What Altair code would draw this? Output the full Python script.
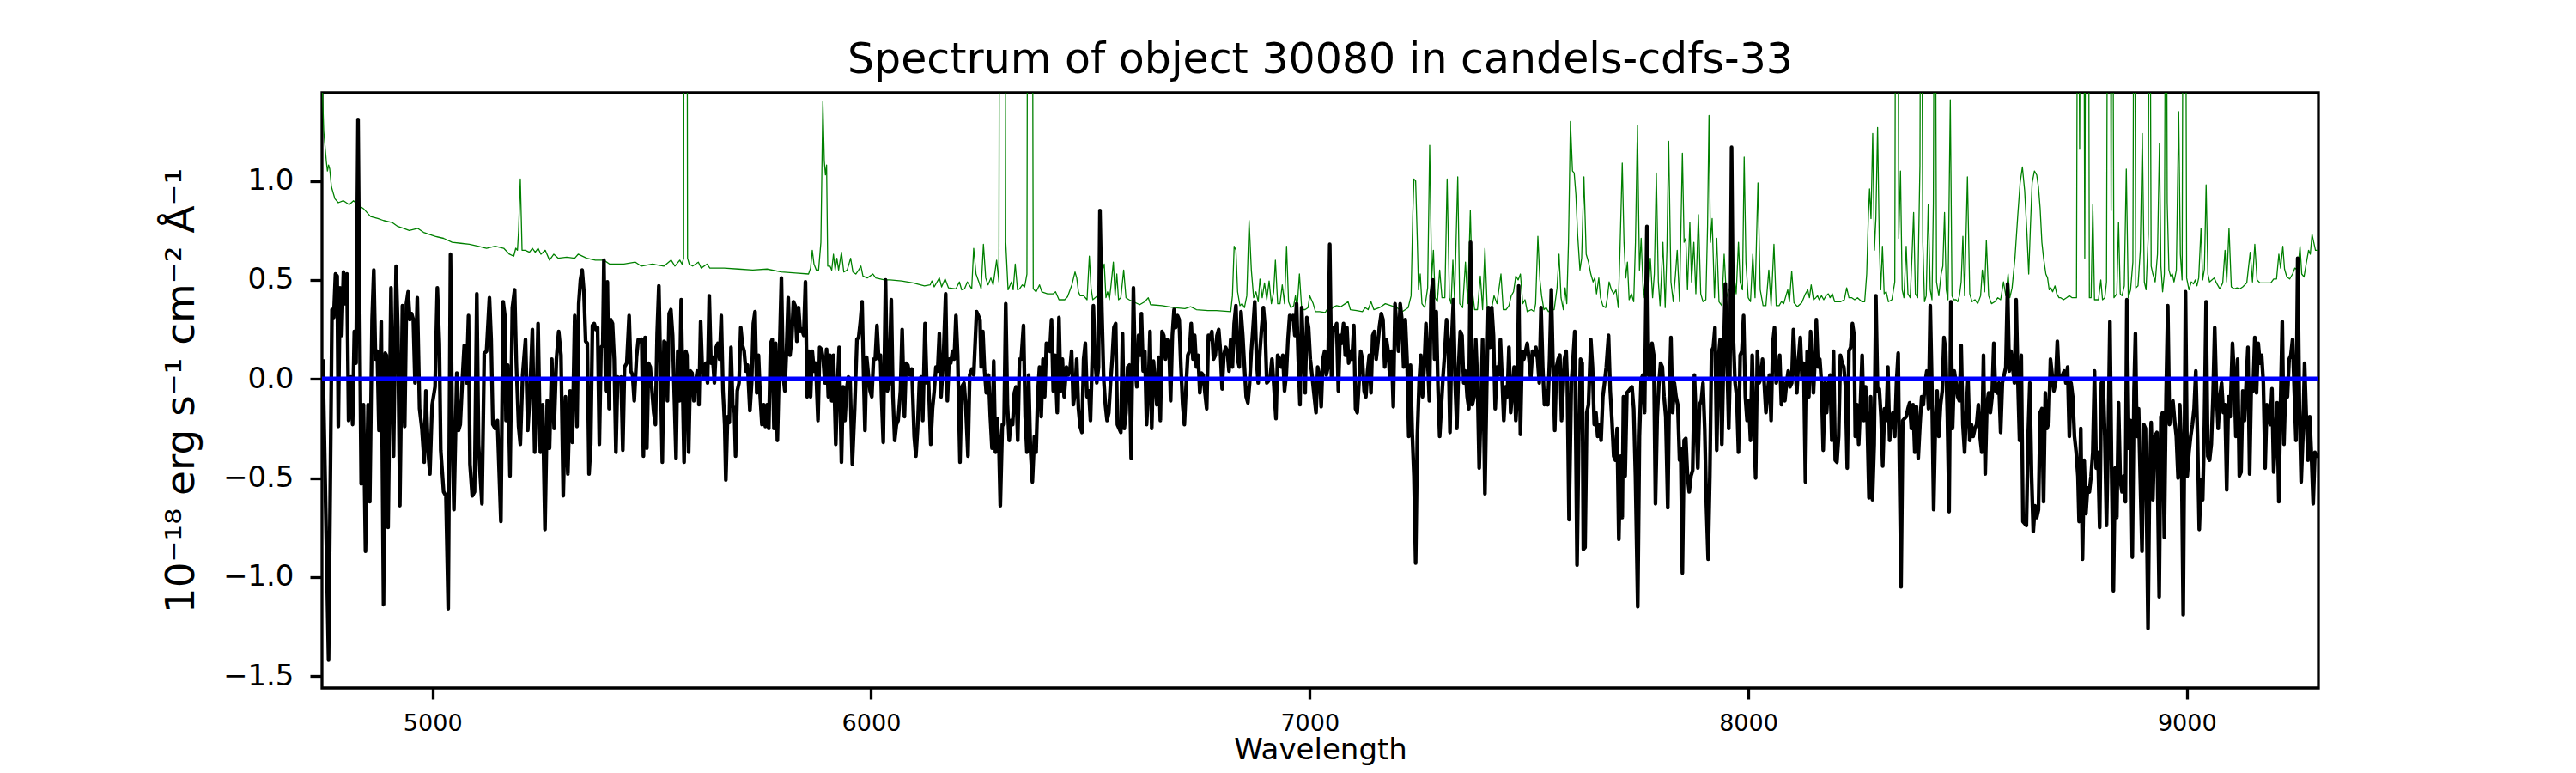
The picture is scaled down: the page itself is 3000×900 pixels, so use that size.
import altair as alt
import pandas as pd

# ---------------- data: object spectrum (black), segment by segment ----------------
wa = [4750.0, 4763.0, 4770.8, 4774.7, 4778.7, 4782.6, 4785.2, 4789.1, 4793.0, 4796.9, 4800.9, 4804.8, 4808.7, 4813.9, 4817.8, 4821.7, 4825.7, 4830.2, 4834.8, 4837.4,
      4842.6, 4847.2, 4853.1, 4857.0, 4862.2, 4866.1, 4870.0, 4874.0, 4877.9, 4883.1, 4888.3, 4892.2, 4894.8, 4898.7, 4905.3, 4911.1, 4917.0, 4920.9, 4925.5, 4931.4,
      4936.6, 4940.5, 4944.4, 4948.3, 4952.2, 4956.2, 4960.1, 4965.3, 4970.5, 4975.8, 4981.0, 4984.9, 4990.1, 4994.0, 4999.2, 5005.8, 5011.0, 5015.6, 5018.8, 5025.3,
      5030.6, 5035.8, 5041.0, 5044.9, 5048.8, 5055.4, 5059.3, 5063.2, 5068.4, 5072.3, 5077.6, 5082.1, 5085.4, 5090.6, 5095.8, 5101.0, 5105.0, 5108.9, 5112.8, 5118.0,
      5123.2, 5129.8, 5133.7, 5137.6, 5142.8, 5148.0, 5155.9, 5161.1, 5165.0, 5167.6, 5171.5, 5176.7, 5182.0, 5187.2, 5191.1, 5196.3, 5200.2, 5205.5, 5212.0, 5217.2,
      5222.4, 5227.7, 5232.9, 5236.8, 5240.7, 5245.9, 5251.2, 5256.4, 5261.6, 5266.8, 5272.0, 5277.3, 5282.5, 5287.7, 5292.9, 5298.1, 5303.3, 5308.6, 5313.8, 5319.0,
      5324.2]
fa = [0.10, -1.42, 0.35, 0.31, 0.53, 0.52, -0.24, 0.46, 0.22, 0.54, 0.38, 0.53, -0.21, 0.01, -0.23, 0.24, 0.08, 1.31, 0.10, -0.53,
      -0.13, -0.87, -0.13, -0.62, 0.30, 0.55, 0.10, 0.14, -0.26, 0.29, -1.14, 0.13, 0.12, -0.75, 0.46, -0.39, 0.57, 0.26, -0.64, 0.37,
      -0.24, 0.38, 0.44, 0.30, 0.33, 0.30, -0.02, 0.41, -0.15, -0.25, -0.42, -0.06, -0.37, -0.48, -0.13, -0.04, 0.46, 0.18, -0.36, -0.57,
      -0.59, -1.16, 0.63, -0.25, -0.66, 0.03, -0.26, -0.23, 0.01, 0.17, -0.02, 0.32, -0.43, -0.59, -0.57, 0.43, -0.33, -0.49, -0.63, 0.13,
      0.14, 0.41, 0.20, -0.23, -0.25, -0.21, -0.72, 0.39, 0.32, -0.21, 0.07, -0.49, 0.36, 0.45, 0.08, -0.24, -0.33, 0.02, 0.20, -0.26,
      -0.06, 0.25, -0.37, -0.13, 0.28, -0.37, -0.13, -0.76, -0.11, -0.35, 0.10, -0.25, 0.10, 0.24, 0.12, -0.59, -0.09, -0.48, -0.06, -0.32,
      0.32]

wb = [5329.5, 5333.4, 5337.3, 5341.2, 5345.2, 5349.1, 5353.0, 5356.9, 5360.8, 5364.7, 5368.6, 5372.6, 5376.5, 5380.4, 5384.3, 5388.2, 5390.8, 5394.8, 5398.7, 5402.6,
      5406.5, 5410.4, 5414.3, 5418.2, 5422.2, 5426.1, 5430.0, 5433.9, 5437.8, 5443.0, 5448.3, 5452.2, 5456.1, 5460.0, 5465.2, 5469.2, 5473.1, 5477.0, 5480.9, 5484.8,
      5488.7, 5492.6, 5496.6, 5500.5, 5504.4, 5508.3, 5512.2, 5516.1, 5520.1, 5524.0, 5527.9, 5531.8, 5535.7, 5539.6, 5543.5, 5547.5, 5551.4, 5555.3, 5559.2, 5563.1,
      5567.0, 5571.0, 5573.6, 5577.5, 5580.1, 5584.0, 5587.9, 5591.8, 5595.8, 5599.7, 5603.6, 5607.5, 5611.4, 5615.3, 5619.2, 5623.2, 5627.1, 5631.0, 5634.9, 5638.8,
      5642.7, 5646.7, 5650.6, 5654.5, 5658.4, 5662.3, 5666.2, 5668.8, 5672.8, 5676.7, 5680.6, 5684.5, 5688.4, 5691.0, 5694.9, 5698.9, 5702.8, 5706.7, 5710.6, 5714.5,
      5718.4, 5723.7, 5727.6, 5731.5, 5735.4, 5739.3, 5743.2, 5747.2, 5751.1, 5755.0, 5758.9, 5762.8, 5766.7, 5770.7, 5774.6, 5778.5, 5782.4, 5786.3, 5790.2, 5795.5,
      5799.4, 5803.3, 5807.2, 5811.1, 5815.0, 5819.0, 5822.9, 5826.8, 5830.7, 5834.6, 5838.5, 5842.4, 5846.4, 5850.3, 5854.2, 5858.1, 5862.0, 5865.9, 5869.8, 5873.8]
fb = [-0.24, 0.38, 0.50, 0.55, 0.44, 0.19, 0.18, -0.48, -0.33, 0.27, 0.28, 0.25, 0.26, -0.33, 0.16, 0.17, 0.60, -0.06, 0.49, -0.15,
      0.30, 0.28, 0.10, -0.37, 0.01, 0.00, 0.01, -0.36, 0.06, 0.08, 0.32, 0.04, 0.02, -0.11, 0.11, 0.20, 0.19, 0.20, -0.39, 0.21,
      -0.35, 0.08, 0.06, -0.06, -0.17, -0.23, 0.23, 0.47, 0.02, -0.42, 0.19, 0.18, -0.11, 0.33, 0.35, 0.22, -0.09, -0.40, 0.14, -0.11,
      0.40, -0.12, -0.42, 0.14, 0.12, -0.37, 0.04, 0.03, -0.11, -0.02, 0.04, -0.13, 0.29, 0.04, 0.01, 0.08, -0.02, 0.42, 0.08, 0.11,
      -0.02, 0.16, 0.18, 0.10, 0.32, -0.06, -0.23, -0.51, -0.19, -0.22, 0.16, -0.13, -0.17, -0.39, -0.06, -0.02, 0.26, 0.17, 0.14, 0.04,
      0.07, -0.16, -0.02, 0.28, 0.34, -0.07, 0.12, -0.09, -0.23, -0.13, -0.24, -0.13, -0.25, 0.18, 0.20, -0.25, 0.18, -0.31, 0.05, 0.51,
      0.02, -0.06, 0.15, 0.41, 0.12, 0.20, 0.39, 0.37, 0.19, 0.36, 0.24, 0.25, 0.22, 0.49, -0.09, 0.14, -0.09, 0.14, 0.04, 0.08]

wc = [5878.9, 5882.8, 5886.8, 5890.7, 5894.6, 5898.5, 5902.4, 5906.3, 5910.2, 5914.2, 5919.4, 5923.3, 5927.2, 5932.4, 5936.3, 5940.3, 5944.2, 5948.1, 5952.0, 5957.2,
      5962.5, 5967.7, 5971.6, 5975.5, 5979.4, 5983.3, 5986.0, 5989.9, 5993.8, 5997.7, 6001.6, 6005.5, 6009.4, 6013.4, 6017.3, 6021.2, 6023.8, 6027.7, 6032.9, 6036.9,
      6040.8, 6046.0, 6049.9, 6053.8, 6057.7, 6061.6, 6066.9, 6070.8, 6076.0, 6079.9, 6083.8, 6087.8, 6093.0, 6098.2, 6102.1, 6106.0, 6110.0, 6113.9, 6117.8, 6123.0,
      6126.9, 6130.8, 6136.0, 6140.0, 6143.9, 6147.8, 6151.7, 6155.6, 6159.5, 6164.8, 6170.0, 6173.9, 6177.8, 6181.7, 6185.6, 6189.6, 6193.5, 6197.4, 6202.6, 6206.5,
      6211.8, 6215.7, 6220.9, 6224.8, 6230.0, 6234.0, 6240.5, 6244.4, 6248.3, 6250.9, 6254.8, 6258.7, 6262.6, 6267.9, 6271.8, 6275.7, 6279.6, 6283.5, 6287.4, 6291.4,
      6294.6, 6299.2, 6303.1, 6307.0, 6310.9, 6314.9, 6318.8, 6322.7, 6326.6, 6330.5, 6334.4, 6338.4, 6342.3, 6347.5, 6351.4, 6355.3, 6359.2, 6363.2, 6367.7, 6372.3,
      6376.2, 6380.1, 6384.0, 6387.9, 6391.9, 6395.8, 6399.7, 6403.6, 6407.5, 6411.4, 6415.3, 6419.3, 6424.5, 6428.4, 6432.3, 6436.2, 6440.2]
fc = [-0.21, 0.16, 0.15, 0.10, -0.02, 0.15, -0.09, 0.12, -0.11, 0.12, -0.33, -0.04, 0.16, -0.42, -0.04, -0.21, -0.05, 0.01, 0.00, -0.43,
      -0.15, 0.20, 0.21, 0.29, 0.39, -0.02, -0.26, 0.11, 0.02, -0.06, -0.09, 0.10, 0.10, 0.27, 0.10, 0.12, -0.09, -0.32, 0.50, -0.06,
      -0.03, 0.40, -0.09, -0.31, -0.23, -0.21, -0.06, 0.25, -0.19, 0.08, 0.07, 0.02, 0.05, -0.29, -0.39, -0.25, -0.02, 0.01, -0.21, 0.28,
      -0.02, 0.00, -0.33, -0.15, -0.06, 0.06, 0.04, 0.23, -0.09, 0.10, 0.43, -0.11, 0.10, 0.08, 0.14, 0.10, 0.32, 0.12, -0.42, -0.04,
      -0.02, -0.13, -0.39, 0.02, 0.05, 0.02, 0.34, 0.32, 0.30, 0.06, 0.24, 0.04, -0.07, 0.02, -0.19, -0.35, 0.09, -0.37, -0.20, -0.33,
      -0.64, -0.23, -0.23, 0.38, -0.13, -0.31, -0.21, -0.23, -0.07, -0.04, -0.31, 0.10, 0.10, 0.27, -0.19, -0.37, 0.02, -0.35, -0.52, -0.29,
      -0.37, -0.07, 0.06, -0.19, 0.10, -0.09, 0.18, 0.16, 0.14, 0.30, -0.06, 0.12, -0.17, 0.31, -0.06, 0.10, -0.09]

wd = [6445.4, 6449.3, 6453.2, 6457.2, 6461.1, 6465.0, 6468.9, 6472.8, 6476.7, 6480.7, 6484.6, 6488.5, 6492.4, 6496.3, 6500.2, 6504.1, 6506.8, 6510.7, 6514.6, 6518.5,
      6521.8, 6526.3, 6530.3, 6534.2, 6538.1, 6542.0, 6545.9, 6549.8, 6553.7, 6557.7, 6561.6, 6565.5, 6569.4, 6573.3, 6577.2, 6581.2, 6585.1, 6589.0, 6592.9, 6598.1,
      6602.0, 6606.0, 6609.9, 6613.8, 6616.4, 6620.3, 6624.2, 6628.1, 6632.1, 6636.0, 6639.9, 6643.8, 6647.7, 6651.6, 6655.6, 6659.5, 6663.4, 6667.3, 6671.2, 6675.1,
      6679.0, 6683.0, 6686.9, 6690.8, 6694.7, 6698.6, 6702.5, 6706.5, 6710.4, 6714.3, 6718.2, 6722.1, 6726.0, 6729.9, 6733.9, 6737.8, 6741.7, 6745.6, 6749.5, 6753.4,
      6757.4, 6761.3, 6765.2, 6769.1, 6773.0, 6776.9, 6780.8, 6784.8, 6788.7, 6792.6, 6796.5, 6800.4, 6804.3, 6808.3, 6812.2, 6816.1, 6820.0, 6823.9, 6827.8, 6831.8,
      6835.7, 6839.6, 6843.5, 6847.4, 6851.3, 6855.2, 6859.2, 6863.1, 6867.0, 6870.9, 6874.8, 6878.7, 6882.6, 6886.6, 6890.5, 6894.4, 6898.3, 6902.2, 6906.1, 6910.1,
      6914.0, 6917.9, 6923.1, 6927.0, 6930.9, 6934.9, 6938.8, 6942.7, 6946.6, 6950.5, 6954.4, 6958.4, 6962.3, 6966.2, 6970.1, 6974.0, 6977.9, 6981.8, 6985.8, 6989.7,
      6993.6, 6997.5, 7001.4, 7005.3]
fd = [0.06, 0.02, 0.04, 0.14, -0.13, -0.07, 0.10, -0.15, -0.24, -0.27, 0.10, 0.18, -0.09, -0.06, -0.21, 0.10, 0.37, 0.10, -0.02, 0.06,
      0.85, 0.34, 0.00, -0.13, -0.21, -0.17, -0.02, 0.10, 0.26, 0.28, -0.23, -0.25, -0.27, 0.23, -0.25, -0.17, 0.06, 0.07, -0.40, 0.46,
      0.06, -0.04, 0.22, 0.12, 0.33, 0.04, 0.14, -0.23, -0.06, 0.24, -0.25, 0.09, -0.02, -0.13, 0.11, -0.21, 0.24, 0.22, 0.10, 0.20,
      0.18, -0.11, 0.22, 0.35, 0.26, 0.32, 0.30, 0.06, -0.13, -0.23, -0.04, 0.12, 0.14, 0.28, 0.10, 0.22, 0.06, 0.12, -0.07, 0.03,
      0.02, -0.07, -0.15, 0.22, 0.20, 0.24, 0.10, 0.12, 0.22, 0.25, 0.14, -0.05, 0.12, 0.16, 0.14, 0.04, 0.20, 0.06, 0.28, 0.37,
      0.10, 0.06, 0.34, 0.22, 0.06, -0.09, -0.12, -0.02, 0.14, 0.26, 0.39, 0.10, -0.02, 0.14, 0.26, 0.36, 0.26, -0.02, -0.01, 0.01,
      0.10, -0.02, -0.20, 0.12, 0.10, 0.06, 0.12, -0.06, 0.02, 0.20, 0.32, 0.30, 0.32, 0.22, 0.38, 0.10, -0.13, 0.36, 0.12, -0.07,
      0.31, 0.26, 0.10, 0.02]

we = [7014.5, 7018.4, 7022.4, 7026.3, 7030.2, 7034.1, 7038.0, 7041.9, 7045.8, 7049.8, 7053.7, 7057.6, 7061.5, 7065.4, 7069.3, 7073.3, 7077.2, 7081.1, 7085.0, 7088.9,
      7092.8, 7096.7, 7100.7, 7104.6, 7108.5, 7112.4, 7116.3, 7120.2, 7124.2, 7128.1, 7132.0, 7135.9, 7139.8, 7143.7, 7147.6, 7151.6, 7155.5, 7159.4, 7163.3, 7167.2,
      7171.1, 7175.1, 7179.0, 7182.9, 7186.8, 7190.7, 7194.6, 7198.6, 7202.5, 7206.4, 7210.3, 7214.2, 7218.1, 7222.0, 7226.0, 7229.9, 7233.8, 7237.7, 7241.6, 7245.5,
      7249.5, 7253.4, 7257.3, 7261.2, 7265.1, 7269.0, 7272.9, 7276.9, 7280.8, 7284.7, 7288.6, 7292.5, 7296.4, 7300.4, 7304.3, 7308.2, 7312.1, 7316.0, 7319.9, 7323.8,
      7327.8, 7331.7, 7335.6, 7339.5, 7343.4, 7347.3, 7351.3, 7355.2, 7359.1, 7363.0, 7366.9, 7370.8, 7374.8, 7378.7, 7382.6, 7386.5, 7390.4, 7394.3, 7399.6, 7403.5,
      7407.4, 7411.3, 7415.2, 7419.1, 7423.0, 7427.0, 7430.9, 7434.8, 7438.7, 7442.6, 7446.5, 7450.5, 7454.4, 7458.3, 7462.2, 7466.1, 7470.0, 7473.9, 7476.6, 7480.5,
      7484.4, 7488.3, 7492.2, 7496.1, 7500.1, 7504.0, 7507.9, 7511.8, 7515.7, 7519.6, 7523.5, 7527.5, 7531.4, 7535.3, 7539.2, 7543.1, 7547.0, 7551.0, 7554.9, 7558.8,
      7562.7, 7566.6, 7570.5, 7574.4]
fe = [-0.17, 0.06, 0.02, -0.14, 0.10, 0.14, 0.02, 0.06, 0.68, 0.00, 0.26, 0.25, 0.28, -0.06, 0.22, 0.18, 0.28, 0.12, 0.26, 0.08,
      0.14, 0.10, 0.27, -0.15, -0.17, -0.02, 0.14, 0.10, -0.06, -0.09, 0.04, 0.12, -0.07, 0.22, 0.24, 0.10, 0.18, 0.27, 0.33, 0.30,
      0.06, 0.20, 0.14, 0.00, 0.14, -0.14, 0.38, 0.26, 0.14, 0.38, 0.30, 0.06, 0.30, 0.10, -0.29, 0.07, -0.27, -0.49, -0.93, -0.29,
      -0.02, 0.12, -0.09, 0.06, 0.28, 0.10, -0.11, 0.42, 0.50, 0.10, 0.34, -0.04, -0.29, -0.13, 0.02, 0.14, 0.30, 0.18, -0.27, 0.20,
      0.40, -0.02, -0.25, 0.06, 0.24, 0.22, -0.02, 0.04, -0.09, -0.15, 0.69, -0.13, -0.09, 0.20, -0.02, -0.45, -0.15, 0.20, -0.58, -0.06,
      0.36, 0.16, 0.36, 0.22, -0.15, 0.06, 0.02, 0.20, 0.00, -0.21, -0.04, -0.09, 0.16, -0.17, -0.06, 0.06, -0.21, -0.06, 0.47, -0.28,
      0.14, 0.10, 0.14, 0.18, 0.10, 0.00, 0.14, 0.12, 0.16, 0.10, -0.02, 0.36, 0.06, -0.13, -0.06, -0.13, 0.10, 0.45, 0.06, -0.26,
      0.06, 0.10, 0.12, -0.21]

wf = [7580.9, 7584.8, 7587.4, 7591.4, 7596.6, 7600.5, 7604.4, 7609.6, 7613.5, 7617.5, 7621.4, 7624.0, 7627.9, 7631.8, 7635.7, 7641.0, 7644.9, 7648.8, 7652.7, 7656.6,
      7660.5, 7664.4, 7668.4, 7672.3, 7676.2, 7681.4, 7685.3, 7689.2, 7693.2, 7697.1, 7701.0, 7704.9, 7708.8, 7712.7, 7715.4, 7719.3, 7723.2, 7727.1, 7731.0, 7734.9,
      7738.8, 7742.8, 7748.0, 7751.9, 7755.8, 7759.7, 7763.6, 7768.9, 7772.8, 7776.7, 7780.6, 7784.5, 7788.4, 7792.4, 7796.3, 7800.2, 7804.1, 7808.0, 7811.9, 7816.5,
      7819.8, 7823.7, 7827.6, 7831.5, 7835.4, 7839.3, 7843.3, 7845.9, 7849.8, 7853.7, 7857.6, 7861.5, 7865.4, 7869.4, 7873.3, 7877.2, 7881.1, 7885.0, 7888.9, 7892.9,
      7896.8, 7900.7, 7904.6, 7908.5, 7912.4, 7916.3, 7920.3, 7924.2, 7928.1, 7932.0, 7935.9, 7939.8, 7943.8, 7947.7, 7951.6, 7955.5, 7958.1, 7962.0, 7965.9, 7969.9,
      7973.8, 7977.7, 7981.6, 7985.5, 7989.4, 7993.4, 7997.3, 8001.2, 8005.1, 8009.0, 8012.9, 8016.8, 8020.8, 8024.7, 8028.6, 8032.5, 8036.4, 8040.3, 8044.3, 8048.2,
      8052.1, 8056.0, 8059.9, 8063.8, 8067.7, 8071.7, 8075.6, 8079.5, 8083.4, 8087.3, 8091.2, 8095.2, 8099.1, 8103.0, 8106.9, 8110.8, 8114.7, 8118.7, 8122.6, 8126.5,
      8130.4, 8134.3, 8138.2, 8142.2]
ff = [0.10, 0.14, -0.02, -0.71, -0.02, 0.10, 0.24, -0.94, -0.29, 0.10, 0.08, -0.86, -0.85, -0.17, -0.13, 0.20, 0.06, -0.23, -0.17, -0.29,
      -0.23, -0.31, -0.09, -0.02, 0.06, 0.22, -0.06, -0.21, -0.39, -0.41, -0.25, -0.81, -0.39, -0.70, -0.09, -0.49, -0.07, -0.06, -0.05, -0.04,
      -0.15, -0.49, -1.15, -0.29, 0.00, 0.02, -0.17, 0.77, 0.02, 0.00, 0.18, 0.12, -0.63, -0.19, -0.02, 0.08, 0.06, -0.09, -0.19, -0.65,
      -0.11, 0.21, -0.17, -0.02, -0.09, -0.13, -0.41, -0.35, -0.98, -0.31, -0.30, -0.49, -0.57, -0.49, -0.46, 0.02, -0.21, -0.45, -0.13, -0.11,
      -0.02, -0.25, -0.64, -0.91, -0.49, 0.14, 0.16, 0.26, -0.36, 0.10, 0.20, -0.33, 0.10, 0.48, 0.10, -0.25, 0.00, 1.17, 0.22, -0.02,
      -0.09, -0.37, 0.12, 0.14, 0.32, -0.09, -0.21, -0.11, -0.31, 0.12, -0.23, -0.50, 0.14, -0.02, 0.00, 0.10, -0.02, -0.17, -0.06, 0.02,
      -0.21, 0.18, 0.26, -0.02, 0.02, 0.12, -0.13, -0.02, -0.11, -0.02, 0.04, -0.04, -0.02, 0.25, 0.06, -0.07, 0.10, 0.21, 0.00, 0.08,
      -0.52, 0.14, -0.09, 0.24]

wg = [8148.7, 8152.6, 8155.2, 8159.2, 8163.1, 8167.0, 8170.9, 8174.8, 8178.7, 8182.7, 8186.6, 8190.5, 8194.4, 8198.3, 8202.2, 8206.1, 8210.1, 8214.0, 8217.9, 8221.8,
      8225.7, 8229.6, 8233.6, 8237.5, 8241.4, 8244.0, 8247.9, 8251.8, 8255.7, 8259.7, 8263.6, 8267.5, 8271.4, 8275.3, 8279.2, 8283.2, 8287.1, 8291.0, 8294.9, 8298.8,
      8302.7, 8306.6, 8310.6, 8314.5, 8318.4, 8322.3, 8326.2, 8330.1, 8334.1, 8338.0, 8341.9, 8344.5, 8348.4, 8352.3, 8356.2, 8360.2, 8364.1, 8368.0, 8371.9, 8375.8,
      8379.7, 8383.6, 8387.6, 8391.5, 8395.4, 8399.3, 8403.2, 8407.1, 8411.1, 8415.0, 8418.9, 8422.8, 8426.7, 8430.6, 8434.5, 8438.5, 8442.4, 8446.3, 8450.2, 8454.1,
      8458.0, 8462.0, 8465.9, 8469.8, 8473.7, 8477.6, 8481.5, 8485.5, 8489.4, 8493.3, 8497.2, 8501.1, 8505.0, 8508.9, 8512.9, 8516.8, 8520.7, 8524.6, 8528.5, 8532.4,
      8536.4, 8540.3, 8544.2, 8548.1, 8552.0, 8555.9, 8559.9, 8563.8, 8567.7, 8571.6, 8575.5, 8579.4, 8583.3, 8587.3, 8591.2, 8595.1, 8599.0, 8602.9, 8606.8, 8610.8,
      8614.7, 8618.6, 8622.5, 8626.4, 8630.3, 8634.2, 8638.2, 8642.1, 8646.0, 8649.9, 8653.8, 8657.7, 8661.7, 8665.6, 8669.5, 8673.4, 8677.3, 8681.2, 8685.2, 8689.1,
      8693.0, 8696.9, 8700.8, 8704.7, 8708.6]
fg = [-0.07, 0.12, 0.30, 0.06, 0.10, -0.02, -0.36, -0.02, -0.17, -0.02, 0.02, -0.31, 0.14, -0.41, -0.42, -0.29, 0.12, 0.08, 0.06, -0.04,
      -0.45, 0.14, 0.16, 0.28, 0.22, -0.29, -0.13, -0.33, -0.13, 0.12, -0.21, -0.04, -0.23, -0.60, -0.09, -0.61, -0.33, 0.42, -0.06, -0.05,
      -0.19, -0.44, -0.15, -0.21, 0.06, -0.31, -0.19, -0.17, -0.29, -0.02, 0.13, -0.39, -1.05, -0.21, -0.20, -0.19, -0.15, -0.12, -0.25, -0.13,
      -0.37, -0.14, -0.40, -0.23, -0.09, -0.13, -0.02, 0.04, -0.15, 0.37, -0.06, -0.66, -0.23, -0.06, -0.29, -0.13, -0.06, 0.21, 0.14, -0.19,
      -0.67, 0.39, -0.25, 0.04, -0.02, -0.09, -0.11, 0.17, -0.23, -0.37, -0.17, 0.00, -0.31, -0.23, -0.29, -0.25, -0.23, -0.13, -0.29, -0.37,
      0.12, -0.48, -0.13, -0.07, -0.17, -0.09, 0.18, -0.06, -0.07, -0.02, -0.27, -0.02, 0.02, 0.06, 0.48, 0.04, 0.14, 0.06, -0.02, 0.40,
      0.00, -0.31, 0.12, -0.72, -0.73, -0.74, -0.29, -0.02, -0.49, -0.77, -0.64, -0.70, -0.66, -0.17, -0.15, -0.62, -0.07, -0.25, -0.22, 0.10,
      0.02, -0.06, -0.02, 0.19, 0.00]

wh = [8716.4, 8720.3, 8724.2, 8728.2, 8732.1, 8736.0, 8739.9, 8743.8, 8747.7, 8751.7, 8754.3, 8758.2, 8762.1, 8766.0, 8769.9, 8773.8, 8777.8, 8781.7, 8785.6, 8789.5,
      8793.4, 8797.3, 8801.3, 8805.2, 8809.1, 8813.0, 8816.9, 8820.8, 8824.7, 8828.7, 8832.6, 8836.5, 8840.4, 8844.3, 8848.2, 8852.2, 8856.1, 8860.0, 8863.3, 8867.8,
      8871.7, 8875.7, 8879.6, 8882.8, 8886.1, 8890.0, 8893.9, 8897.8, 8901.8, 8905.7, 8908.3, 8911.5, 8914.8, 8918.7, 8922.6, 8926.5, 8931.8, 8937.0, 8940.9, 8944.8,
      8948.7, 8952.7, 8956.6, 8960.5, 8964.4, 8968.3, 8972.2, 8976.1, 8980.1, 8984.0, 8987.9, 8991.8, 8997.0, 9001.0, 9004.9, 9008.8, 9012.7, 9016.6, 9020.5, 9024.4,
      9028.4, 9032.3, 9036.2, 9040.1, 9044.0, 9047.9, 9051.9, 9055.8, 9059.7, 9063.6, 9067.5, 9071.4, 9075.3, 9079.3, 9083.2, 9087.1, 9091.0, 9094.9, 9098.8, 9104.1,
      9108.0, 9111.9, 9115.8, 9119.7, 9123.6, 9127.6, 9131.5, 9135.4, 9139.3, 9143.2, 9147.1, 9151.0, 9155.0, 9158.9, 9162.8, 9166.7, 9170.6, 9174.5, 9178.5, 9182.4,
      9186.3, 9190.2, 9194.1, 9198.0, 9201.9, 9205.9, 9209.8, 9213.7, 9217.6, 9221.5, 9225.4, 9229.4, 9233.3, 9237.2, 9241.1, 9245.0, 9248.9, 9252.8, 9256.8, 9260.7,
      9264.6, 9268.5, 9272.4, 9276.3, 9280.3, 9284.2, 9288.1, 9292.0, 9295.9, 9299.8]
fh = [0.02, 0.04, -0.02, 0.06, -0.29, -0.02, -0.09, -0.29, -0.37, -0.49, -0.72, -0.25, -0.91, -0.41, -0.68, -0.55, -0.57, -0.49, -0.37, 0.04,
      -0.45, -0.37, -0.75, -0.02, -0.01, -0.29, -0.74, -0.29, 0.29, -0.49, -1.07, -0.45, -0.70, -0.12, -0.51, -0.57, -0.49, -0.62, 0.40, -0.35,
      -0.21, -0.90, -0.06, 0.23, -0.29, -0.15, -0.51, -0.87, -0.23, -0.25, -0.68, -1.26, -0.55, -0.22, -0.61, -0.29, -0.27, -1.10, -0.19, -0.17,
      -0.80, -0.09, 0.37, -0.23, -0.17, -0.11, -0.21, -0.29, -0.50, -0.13, -0.37, -1.19, 0.44, -0.49, -0.37, -0.29, -0.23, -0.15, 0.04, -0.29,
      -0.76, -0.51, -0.61, -0.23, 0.39, -0.39, -0.41, -0.33, -0.09, 0.26, -0.07, -0.25, -0.09, -0.02, -0.17, -0.13, -0.56, -0.09, -0.19, 0.18,
      0.02, -0.29, 0.10, -0.49, -0.47, -0.06, -0.21, -0.02, 0.16, -0.48, -0.02, -0.06, 0.21, -0.07, 0.18, 0.08, 0.12, -0.02, -0.45, -0.13,
      -0.19, -0.23, -0.05, -0.47, -0.29, -0.12, -0.62, -0.13, 0.29, -0.33, -0.02, -0.09, 0.10, 0.12, 0.20, -0.06, -0.31, 0.61, -0.15, -0.52,
      -0.29, 0.08, -0.19, -0.41, -0.19, -0.39, -0.63, -0.37, -0.39, -0.39]

# ---------------- data: sky / noise spectrum (green) ----------------
sa_w = [4749.0, 4752.0, 4757.8, 4760.4, 4763.0, 4765.6, 4769.5, 4777.4, 4785.2, 4796.9, 4810.0, 4819.8, 4829.6, 4842.6, 4858.9, 4875.2, 4888.3, 4907.9, 4920.9, 4934.0,
        4947.0, 4966.6, 4979.7, 4992.7, 5005.8, 5025.3, 5044.9, 5064.5, 5084.1, 5103.7, 5123.2, 5142.8, 5162.4, 5175.4, 5185.2, 5189.8, 5193.7, 5196.3, 5200.2, 5204.2,
        5211.3, 5221.1, 5227.7, 5234.2, 5240.7, 5247.2, 5257.0, 5266.8, 5276.6, 5286.4, 5306.0, 5324.2, 5332.1, 5351.7, 5371.3, 5390.8, 5403.9, 5436.5, 5462.6, 5475.7,
        5501.8, 5527.9, 5544.2, 5552.7, 5563.8, 5569.0, 5572.6, 5573.8, 5580.0, 5581.5, 5585.3, 5593.1, 5606.2, 5612.7, 5625.8, 5632.3, 5664.9, 5697.6, 5730.2, 5762.8,
        5795.5, 5828.1, 5857.4, 5862.0, 5865.9, 5869.8, 5875.1, 5880.3, 5885.5, 5890.0]
sa_v = [1.45, 1.25, 1.10, 1.05, 1.08, 1.06, 0.97, 0.91, 0.89, 0.90, 0.88, 0.90, 0.88, 0.86, 0.82, 0.81, 0.80, 0.79, 0.77, 0.76,
        0.75, 0.76, 0.74, 0.73, 0.72, 0.71, 0.69, 0.685, 0.68, 0.67, 0.66, 0.67, 0.66, 0.63, 0.62, 0.66, 0.65, 0.75, 1.01, 0.65,
        0.65, 0.64, 0.66, 0.64, 0.66, 0.63, 0.65, 0.60, 0.63, 0.61, 0.615, 0.61, 0.63, 0.61, 0.60, 0.60, 0.58, 0.58, 0.59, 0.57,
        0.58, 0.57, 0.60, 0.57, 0.60, 0.58, 0.61, 3.0, 3.0, 0.61, 0.58, 0.57, 0.59, 0.56, 0.58, 0.56, 0.56, 0.555, 0.55, 0.555,
        0.54, 0.535, 0.53, 0.56, 0.65, 0.58, 0.55, 0.55, 0.69, 1.40]

sb_w = [5893.3, 5895.9, 5898.5, 5901.1, 5906.3, 5910.2, 5914.2, 5918.1, 5922.0, 5925.9, 5932.4, 5937.7, 5945.5, 5953.3, 5958.5, 5965.1, 5971.6, 5976.8, 5981.4, 5991.2,
        6004.2, 6010.7, 6030.3, 6043.4, 6069.5, 6095.6, 6121.7, 6134.7, 6138.7, 6143.9, 6155.6, 6160.8, 6168.7, 6176.5, 6193.5, 6201.3, 6206.5, 6213.0, 6219.6, 6229.4,
        6233.9, 6239.2, 6245.7, 6250.9, 6256.1, 6261.3, 6266.6, 6273.1, 6278.3, 6286.2, 6291.4, 6293.3, 6304.4, 6307.0, 6312.3, 6320.1, 6324.0, 6328.6, 6333.8, 6338.4,
        6344.9, 6350.1, 6355.3, 6357.3, 6367.1, 6369.7, 6376.2, 6384.0, 6389.3, 6402.3, 6415.3, 6420.6, 6428.4, 6441.5, 6448.0, 6457.8]
sb_v = [1.10, 1.03, 1.08, 0.57, 0.57, 0.55, 0.63, 0.55, 0.61, 0.55, 0.64, 0.54, 0.55, 0.61, 0.54, 0.53, 0.55, 0.57, 0.52, 0.51,
        0.53, 0.51, 0.50, 0.50, 0.495, 0.485, 0.47, 0.475, 0.495, 0.465, 0.51, 0.465, 0.505, 0.46, 0.455, 0.49, 0.45, 0.455, 0.49, 0.455,
        0.66, 0.53, 0.49, 0.455, 0.68, 0.51, 0.475, 0.51, 0.475, 0.60, 0.49, 3.0, 3.0, 0.69, 0.45, 0.49, 0.45, 0.58, 0.45, 0.455,
        0.475, 0.465, 0.53, 3.0, 3.0, 0.455, 0.44, 0.475, 0.44, 0.43, 0.43, 0.44, 0.40, 0.40, 0.415, 0.475]

sc_w = [6465.0, 6468.9, 6472.8, 6476.7, 6484.6, 6492.4, 6497.6, 6501.5, 6505.5, 6510.7, 6515.9, 6519.8, 6525.0, 6531.6, 6535.5, 6539.4, 6543.3, 6547.2, 6552.4, 6556.4,
        6560.3, 6564.2, 6569.4, 6575.9, 6581.2, 6588.3, 6598.1, 6612.5, 6624.2, 6632.1, 6637.3, 6663.4, 6689.5, 6715.6, 6728.6, 6741.7, 6767.8, 6787.4, 6820.0, 6823.9,
        6827.8, 6831.8, 6835.7, 6840.9, 6846.1, 6851.3, 6856.6, 6861.8, 6867.0, 6872.2, 6877.5, 6882.7, 6886.6, 6891.8, 6897.0, 6902.2, 6907.5, 6912.7, 6917.9, 6921.8,
        6927.0, 6932.3, 6937.5, 6942.7, 6947.3, 6951.8, 6957.1, 6963.6, 6967.5, 6971.4, 6976.6, 6981.9, 6989.7, 6996.2, 7000.1, 7004.1, 7008.0]
sc_v = [0.54, 0.51, 0.44, 0.42, 0.42, 0.40, 0.62, 0.46, 0.40, 0.41, 0.42, 0.49, 0.53, 0.58, 0.41, 0.44, 0.40, 0.475, 0.59, 0.42,
        0.53, 0.40, 0.41, 0.55, 0.41, 0.40, 0.39, 0.375, 0.39, 0.41, 0.375, 0.37, 0.36, 0.355, 0.365, 0.35, 0.345, 0.345, 0.34, 0.42,
        0.67, 0.65, 0.44, 0.37, 0.38, 0.36, 0.42, 0.80, 0.55, 0.41, 0.44, 0.39, 0.505, 0.41, 0.485, 0.40, 0.495, 0.38, 0.44, 0.60,
        0.38, 0.38, 0.475, 0.38, 0.67, 0.39, 0.36, 0.37, 0.42, 0.36, 0.53, 0.35, 0.35, 0.36, 0.42, 0.40, 0.38]

sd_w = [7013.2, 7022.4, 7035.4, 7041.9, 7048.5, 7055.0, 7061.5, 7071.3, 7081.1, 7087.6, 7092.8, 7107.2, 7120.2, 7126.8, 7133.3, 7139.8, 7146.3, 7159.4, 7172.5, 7185.5,
        7198.6, 7211.6, 7224.7, 7231.2, 7235.1, 7237.7, 7241.6, 7245.5, 7248.2, 7252.1, 7256.0, 7262.5, 7269.0, 7273.6, 7278.2, 7282.1, 7286.0, 7291.2, 7296.4, 7301.7,
        7308.2, 7313.4, 7318.6, 7322.5, 7326.5, 7330.4, 7337.6, 7342.1, 7348.7, 7355.2, 7360.4, 7366.3, 7370.8, 7376.1, 7382.6, 7389.1, 7394.3, 7399.6, 7404.8, 7410.0,
        7415.2, 7420.4, 7427.0, 7436.1, 7441.3, 7447.8, 7454.4, 7459.6, 7464.8, 7470.0, 7475.3, 7480.5, 7485.7, 7490.9, 7496.1, 7505.3, 7511.8, 7515.1, 7520.3, 7524.9,
        7528.8, 7534.0, 7539.2, 7544.4, 7551.0, 7557.5, 7564.0, 7568.6, 7573.1, 7578.4, 7582.3, 7586.2, 7590.1, 7594.5]
sd_v = [0.34, 0.34, 0.335, 0.36, 0.35, 0.365, 0.37, 0.365, 0.38, 0.39, 0.35, 0.345, 0.34, 0.36, 0.35, 0.39, 0.35, 0.36, 0.38, 0.37,
        0.36, 0.34, 0.36, 0.42, 0.83, 1.01, 1.00, 0.69, 0.45, 0.53, 0.38, 0.36, 0.46, 1.18, 0.51, 0.65, 0.41, 0.39, 0.55, 0.41,
        0.41, 1.01, 0.41, 0.38, 0.60, 0.40, 1.02, 0.38, 0.36, 0.59, 0.38, 0.85, 0.45, 0.35, 0.35, 0.52, 0.35, 0.66, 0.36, 0.34,
        0.36, 0.42, 0.38, 0.53, 0.35, 0.35, 0.37, 0.42, 0.44, 0.52, 0.50, 0.53, 0.38, 0.40, 0.34, 0.35, 0.34, 0.38, 0.72, 0.50,
        0.42, 0.35, 0.36, 0.34, 0.35, 0.35, 0.46, 0.63, 0.41, 0.35, 0.46, 0.38, 0.69, 1.30]

se_w = [7599.2, 7603.1, 7607.0, 7610.9, 7616.2, 7620.1, 7625.3, 7630.5, 7635.7, 7641.0, 7646.2, 7650.1, 7654.0, 7659.2, 7663.1, 7668.4, 7674.9, 7678.8, 7682.7, 7688.0,
        7693.2, 7698.4, 7703.6, 7707.5, 7712.7, 7716.7, 7720.6, 7724.5, 7728.4, 7733.6, 7738.8, 7742.8, 7747.3, 7751.9, 7755.8, 7761.0, 7766.3, 7771.5, 7776.7, 7781.9,
        7785.8, 7790.4, 7795.0, 7798.9, 7805.4, 7810.6, 7814.5, 7818.5, 7823.7, 7828.9, 7834.1, 7838.0, 7843.3, 7849.8, 7853.7, 7857.6, 7861.5, 7866.8, 7870.7, 7875.9,
        7880.5, 7886.3, 7891.6, 7896.8, 7903.3, 7907.2, 7910.5, 7913.7, 7917.7, 7922.9, 7928.1, 7933.3, 7939.8, 7945.1, 7950.3, 7955.5, 7962.0, 7967.3, 7972.5, 7977.7,
        7981.6, 7986.8, 7990.7, 7994.7, 7999.9, 8005.1, 8010.3, 8015.5, 8022.1, 8027.3, 8033.8, 8040.3, 8046.9, 8052.1, 8058.6, 8063.8, 8070.4, 8075.6, 8080.8, 8084.7,
        8090.0, 8093.9, 8099.1, 8104.3, 8112.1, 8121.9, 8130.4, 8135.6, 8139.5, 8143.5]
se_v = [1.05, 1.04, 0.93, 0.73, 0.55, 0.61, 1.02, 0.63, 0.59, 0.53, 0.49, 0.51, 0.43, 0.51, 0.41, 0.37, 0.36, 0.41, 0.49, 0.45,
        0.43, 0.45, 0.36, 0.65, 1.09, 0.69, 0.51, 0.59, 0.40, 0.43, 0.39, 0.69, 1.28, 0.55, 0.71, 0.41, 0.53, 0.40, 0.61, 0.41,
        0.53, 1.04, 0.49, 0.37, 0.69, 0.36, 0.65, 1.20, 0.49, 0.39, 0.53, 0.65, 0.39, 1.14, 0.69, 0.71, 0.45, 0.79, 0.49, 0.69,
        0.43, 0.83, 0.43, 0.39, 0.40, 0.77, 1.33, 0.69, 0.81, 0.41, 0.71, 0.39, 0.37, 0.63, 0.41, 0.45, 0.47, 0.53, 0.43, 0.69,
        0.49, 0.45, 1.12, 0.59, 0.41, 0.39, 0.63, 0.41, 0.99, 0.45, 0.37, 0.37, 0.55, 0.37, 0.68, 0.37, 0.37, 0.39, 0.38, 0.41,
        0.45, 0.39, 0.545, 0.385, 0.365, 0.385, 0.43, 0.45, 0.41, 0.475]

sf_w = [8148.7, 8154.0, 8157.9, 8161.8, 8167.0, 8172.2, 8177.4, 8182.7, 8186.6, 8191.8, 8197.0, 8210.1, 8219.2, 8224.4, 8229.6, 8236.2, 8242.7, 8249.2, 8259.0, 8265.5,
        8270.1, 8274.0, 8276.6, 8279.9, 8283.8, 8287.7, 8291.0, 8294.9, 8298.8, 8302.1, 8306.0, 8309.9, 8314.5, 8319.7, 8327.5, 8334.1, 8336.7, 8340.6, 8343.2, 8347.1,
        8351.0, 8354.9, 8360.2, 8364.1, 8369.3, 8373.2, 8377.1, 8381.1, 8386.3, 8391.5, 8394.1, 8398.0, 8401.9, 8405.8, 8410.4, 8415.0, 8418.9, 8422.1, 8425.4, 8429.3,
        8434.5, 8439.8, 8443.7, 8447.6, 8451.5, 8455.4, 8460.7, 8464.6, 8468.5, 8473.7, 8477.6, 8481.5, 8485.5, 8489.4, 8493.3, 8499.8, 8505.0, 8510.3, 8516.8, 8523.3,
        8529.8, 8533.7, 8538.9, 8542.9, 8548.1, 8554.6, 8562.5, 8569.0, 8575.5, 8582.0, 8587.3, 8592.5, 8596.4, 8601.6, 8608.1, 8614.7, 8619.9, 8625.1, 8630.3, 8635.6,
        8639.5, 8643.4, 8647.3, 8652.5, 8657.7, 8661.7, 8665.6, 8669.5, 8673.4, 8678.6, 8682.5, 8686.2, 8690.1, 8694.0, 8699.5, 8703.4, 8708.6]
sf_v = [0.40, 0.41, 0.42, 0.40, 0.42, 0.40, 0.42, 0.43, 0.41, 0.43, 0.39, 0.39, 0.40, 0.46, 0.41, 0.41, 0.40, 0.41, 0.39, 0.39,
        0.53, 0.83, 0.96, 0.81, 1.24, 0.65, 0.81, 1.27, 0.69, 0.45, 0.67, 0.43, 0.44, 0.39, 0.40, 0.49, 3.0, 3.0, 0.71, 1.05,
        0.45, 0.41, 0.67, 0.43, 0.41, 0.61, 0.84, 0.43, 0.41, 1.08, 3.0, 0.69, 0.39, 0.42, 0.88, 0.45, 0.40, 0.89, 3.0, 0.49,
        0.42, 0.53, 0.57, 0.84, 0.45, 0.40, 1.41, 0.42, 0.40, 0.40, 0.39, 0.42, 0.49, 0.72, 0.42, 1.02, 0.43, 0.39, 0.40, 0.38,
        0.42, 0.55, 0.44, 0.70, 0.42, 0.38, 0.39, 0.41, 0.40, 0.49, 0.42, 0.53, 0.41, 0.46, 0.61, 0.83, 0.99, 1.07, 0.95, 0.73,
        0.53, 0.77, 0.99, 1.05, 1.03, 0.97, 0.86, 0.69, 0.61, 0.53, 0.51, 0.45, 0.46, 0.44, 0.47, 0.43, 0.41]

sg_w = [8712.5, 8719.0, 8725.6, 8732.1, 8738.6, 8748.4, 8751.7, 8755.6, 8758.8, 8764.1, 8767.3, 8770.6, 8775.2, 8777.8, 8781.7, 8785.6, 8789.5, 8798.6, 8803.9, 8807.8,
        8813.0, 8816.9, 8820.2, 8824.7, 8827.4, 8830.0, 8833.9, 8840.4, 8844.3, 8848.2, 8852.2, 8857.4, 8862.0, 8866.5, 8871.7, 8877.0, 8880.2, 8883.5, 8888.7, 8893.9,
        8898.5, 8903.1, 8907.0, 8912.2, 8914.8, 8918.7, 8922.6, 8927.9, 8933.1, 8937.6, 8940.9, 8944.8, 8948.7, 8952.7, 8955.3, 8959.2, 8963.1, 8967.0, 8970.9, 8976.1,
        8981.4, 8985.3, 8989.2, 8992.5, 8996.4, 8999.6, 9004.9, 9010.1, 9015.3, 9019.2, 9023.1, 9027.1, 9032.3, 9036.2, 9040.1, 9044.0, 9048.0, 9051.9, 9057.1, 9062.3,
        9067.5, 9075.3, 9081.9, 9087.1, 9091.0, 9096.2, 9101.4, 9108.0, 9114.5, 9121.0, 9127.6, 9136.7, 9144.5, 9149.7, 9155.0, 9160.2, 9166.7, 9175.8, 9182.4, 9191.5,
        9198.0, 9204.6, 9209.8, 9213.7, 9218.9, 9222.8, 9228.0, 9234.6, 9241.1, 9246.3, 9252.8, 9258.1, 9262.0, 9267.2, 9272.4, 9277.6, 9281.5, 9285.5, 9289.4, 9293.3,
        9298.5, 9300.0]
sg_v = [0.41, 0.40, 0.41, 0.42, 0.41, 0.41, 3.0, 1.16, 3.0, 3.0, 0.61, 3.0, 3.0, 0.41, 0.41, 0.88, 0.40, 0.40, 0.50, 0.40,
        0.41, 0.49, 3.0, 3.0, 0.85, 3.0, 0.41, 0.43, 0.79, 0.43, 0.42, 0.47, 1.06, 0.41, 0.45, 0.59, 3.0, 0.46, 0.47, 0.65,
        1.24, 0.49, 0.45, 0.73, 3.0, 0.57, 0.53, 0.49, 0.63, 1.19, 0.57, 0.44, 0.53, 3.0, 0.89, 0.55, 0.52, 0.53, 0.49, 0.55,
        1.35, 0.63, 0.50, 3.0, 3.0, 0.51, 0.45, 0.49, 0.48, 0.50, 0.47, 0.51, 0.76, 0.50, 0.555, 0.98, 0.53, 0.49, 0.50, 0.51,
        0.485, 0.455, 0.485, 0.65, 0.49, 0.76, 0.465, 0.455, 0.46, 0.455, 0.465, 0.485, 0.64, 0.49, 0.68, 0.50, 0.485, 0.485, 0.485, 0.485,
        0.505, 0.505, 0.63, 0.56, 0.67, 0.555, 0.515, 0.505, 0.53, 0.56, 0.55, 0.67, 0.53, 0.515, 0.585, 0.65, 0.63, 0.73, 0.69, 0.65,
        0.65, 0.65]

zero_wave = [4748.0, 9300.0]
zero_flux = [0.0, 0.0]

x_domain = [4748.0, 9300.0]
y_domain = [-1.56, 1.445]
x_ticks = [5000, 6000, 7000, 8000, 9000]
y_ticks = [-1.5, -1.0, -0.5, 0.0, 0.5, 1.0]

title_text = "Spectrum of object 30080 in candels-cdfs-33"
x_title = "Wavelength"
y_title = "10\u207b\u00b9\u2078 erg s\u207b\u00b9 cm\u207b\u00b2 \u00c5\u207b\u00b9"

# ---------------- tables ----------------
flux_df = pd.DataFrame({
    "wave": wa + wb + wc + wd + we + wf + wg + wh,
    "flux": fa + fb + fc + fd + fe + ff + fg + fh,
})
sky_df = pd.DataFrame({
    "wave": sa_w + sb_w + sc_w + sd_w + se_w + sf_w + sg_w,
    "flux": sa_v + sb_v + sc_v + sd_v + se_v + sf_v + sg_v,
})
zero_df = pd.DataFrame({"wave": zero_wave, "flux": zero_flux})
title_df = pd.DataFrame({"label": [title_text]})

FONT = "DejaVu Sans"
W, H = 2325, 693

x_enc = alt.X(
    "wave:Q",
    scale=alt.Scale(domain=x_domain, nice=False, zero=False),
    axis=alt.Axis(
        values=x_ticks, format="d", title=x_title, grid=False, domain=False,
        labelFont=FONT, labelFontSize=27, labelColor="black",
        labelPadding=36, labelBaseline="alphabetic", labelOverlap=False,
        tickSize=13, tickColor="black", tickWidth=3.3,
        titleFont=FONT, titleFontSize=34, titleFontWeight="normal", titleColor="black",
        titleX=W / 2, titleY=82, titleBaseline="alphabetic", titleAlign="center",
    ),
)
y_enc = alt.Y(
    "flux:Q",
    scale=alt.Scale(domain=y_domain, nice=False, zero=False),
    axis=alt.Axis(
        values=y_ticks, format=".1f", title=y_title, grid=False, domain=False,
        labelFont=FONT, labelFontSize=34, labelColor="black",
        labelPadding=19, labelOverlap=False,
        tickSize=14, tickColor="black", tickWidth=3.3,
        titleFont=FONT, titleFontSize=47, titleFontWeight="normal", titleColor="black",
        titleX=-150, titleY=H / 2, titleAngle=270,
        titleBaseline="alphabetic", titleAlign="center",
    ),
)

sky = alt.Chart(sky_df).mark_line(
    color="#008000", strokeWidth=1.3, clip=True, strokeJoin="round"
).encode(x=x_enc, y=y_enc)

obj = alt.Chart(flux_df).mark_line(
    color="#000000", strokeWidth=4.3, clip=True, strokeJoin="round"
).encode(x=x_enc, y=y_enc)

zero = alt.Chart(zero_df).mark_line(
    color="#0000ff", strokeWidth=5.5, clip=True
).encode(x=x_enc, y=y_enc)

title = alt.Chart(title_df).mark_text(
    font=FONT, fontSize=49, color="black", align="center", baseline="alphabetic"
).encode(x=alt.value(W / 2), y=alt.value(-23), text="label:N")

chart = (
    alt.layer(sky, obj, zero, title)
    .properties(
        width=W,
        height=H,
        background="white",
        autosize=alt.AutoSizeParams(type="none"),
        padding={"left": 367, "top": 100, "right": 270, "bottom": 91},
    )
    .configure_view(stroke="black", strokeWidth=3.3)
)

chart.save("out.html", embed_options={"renderer": "svg", "actions": False})
